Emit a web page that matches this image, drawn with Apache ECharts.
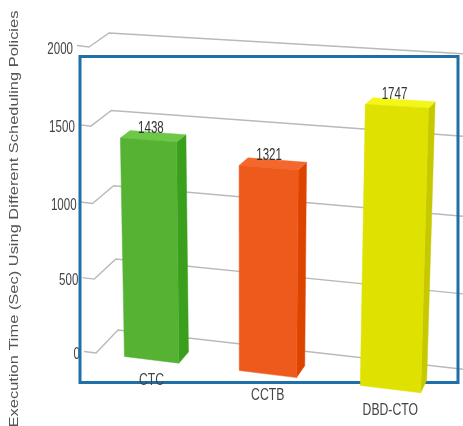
<!DOCTYPE html>
<html>
<head>
<meta charset="utf-8">
<style>html,body{margin:0;padding:0;background:#fff}#chart{width:463px;height:426px}</style>
<script src="https://cdn.jsdelivr.net/npm/echarts@6/dist/echarts.min.js"></script>
</head>
<body>
<div id="chart"></div>
<script>
const categories = ['CTC', 'CCTB', 'DBD-CTO'];
const executionTimes = [1438, 1321, 1747];
const tickValues = [0, 500, 1000, 1500, 2000];
const axisTitle = 'Execution Time (Sec) Using Different Scheduling Policies';

const barColors = [
  { front: '#55b233', side: '#3a9f1c', top: '#6cc846' },
  { front: '#ee5a1b', side: '#dc4500', top: '#f4682e' },
  { front: '#dfe100', side: '#c6c800', top: '#f4f618' }
];

const GRID = { left: 93.5, top: 47, width: 356, height: 306 };
const FLOOR_LEFT = 94, FLOOR_WIDTH = 360;
const TEXT_FONT = '16.5px "Liberation Sans", Arial, sans-serif';

// Maps the unit square onto a quadrilateral given as
// [u0 h0, u1 h0, u1 h1, u0 h1].
function makeHomography(q) {
  const [[x0, y0], [x1, y1], [x2, y2], [x3, y3]] = q;
  const sx = x0 - x1 + x2 - x3, sy = y0 - y1 + y2 - y3;
  const dx1 = x1 - x2, dx2 = x3 - x2, dy1 = y1 - y2, dy2 = y3 - y2;
  const den = dx1 * dy2 - dx2 * dy1;
  const g = (sx * dy2 - dx2 * sy) / den;
  const h = (dx1 * sy - sx * dy1) / den;
  const a = x1 - x0 + g * x1, b = x3 - x0 + h * x3;
  const d = y1 - y0 + g * y1, e = y3 - y0 + h * y3;
  return (u, v) => {
    const w = g * u + h * v + 1;
    return [(a * u + b * v + x0) / w, (d * u + e * v + y0) / w];
  };
}

const frontPlane = makeHomography([[96, 353], [459, 397.5], [470, 67], [89, 47]]);
const backWall = makeHomography([[118, 330], [470, 370], [483, 55], [109, 33]]);
const BAR_DEPTH = 0.47;

// depth 0 is the front edge of the floor, depth 1 the back wall.
function project(u, h, depth) {
  const f = frontPlane(u, h), b = backWall(u, h);
  return [f[0] + (b[0] - f[0]) * depth, f[1] + (b[1] - f[1]) * depth];
}

function toUnit(point) {
  return [(point[0] - FLOOR_LEFT) / FLOOR_WIDTH, (GRID.top + GRID.height - point[1]) / GRID.height];
}

function label(text, x, y, scaleX, fill) {
  return {
    type: 'text', x, y, scaleX,
    style: { text, font: TEXT_FONT, fill, align: 'center', verticalAlign: 'middle' }
  };
}

function renderGridLine(params, api) {
  const value = api.value(1);
  const h = toUnit(api.coord([0, value]))[1];
  const corner = project(0, h, 0);
  const back = project(0, h, 1);
  const far = project(1, h, 1);
  const stub = [corner[0] - 12, corner[1] - 1.5];
  return {
    type: 'group',
    children: [
      {
        type: 'polyline',
        shape: { points: [stub, corner, back, far] },
        style: { stroke: '#b9b9b9', lineWidth: 1.4, fill: null }
      },
      {
        type: 'text', x: stub[0] - 4, y: corner[1] + 1 + h, scaleX: 0.7,
        style: { text: String(value), font: TEXT_FONT, fill: '#444', align: 'right', verticalAlign: 'middle' }
      }
    ]
  };
}

function renderBar(params, api) {
  const index = api.value(0);
  const value = api.value(1);
  const centre = toUnit(api.coord([index, value]));
  const half = api.size([1, 0])[0] * 0.24 / FLOOR_WIDTH;
  const u0 = centre[0] - half, u1 = centre[0] + half, h = centre[1];
  const color = barColors[index];
  const poly = (points, fill) => ({
    type: 'polygon', shape: { points }, style: { fill, stroke: fill, lineWidth: 0.5 }
  });
  const topMid = project(centre[0], h, 0);
  const baseMid = project(centre[0], 0, 0);
  return {
    type: 'group',
    children: [
      poly([project(u1, 0, 0), project(u1, 0, BAR_DEPTH), project(u1, h, BAR_DEPTH), project(u1, h, 0)], color.side),
      poly([project(u0, h, 0), project(u1, h, 0), project(u1, h, BAR_DEPTH), project(u0, h, BAR_DEPTH)], color.top),
      poly([project(u0, 0, 0), project(u1, 0, 0), project(u1, h, 0), project(u0, h, 0)], color.front),
      label(String(value), (topMid[0] + baseMid[0]) / 2 + 1, topMid[1] - 12, 0.7, '#333'),
      label(categories[index], baseMid[0], baseMid[1] + 21, 0.74, '#444')
    ]
  };
}

const chart = echarts.init(document.getElementById('chart'), null, { renderer: 'canvas' });
chart.setOption({
  animation: false,
  backgroundColor: '#fff',
  grid: GRID,
  xAxis: { type: 'category', data: categories, show: false },
  yAxis: { type: 'value', min: 0, max: 2000, interval: 500, show: false },
  graphic: [
    {
      type: 'rect', z: 3, silent: true,
      shape: { x: 80, y: 56.5, width: 378, height: 326 },
      style: { fill: null, stroke: '#1f6fa9', lineWidth: 3 }
    },
    {
      type: 'text', z: 3, silent: true, x: 14.5, y: 219, rotation: Math.PI / 2, scaleX: 1.265,
      style: {
        text: axisTitle, font: '13px "Liberation Sans", Arial, sans-serif', fill: '#555',
        align: 'center', verticalAlign: 'middle'
      }
    }
  ],
  series: [
    {
      type: 'custom', z: 2, clip: false, silent: true,
      renderItem: renderGridLine,
      data: tickValues.map(v => [0, v])
    },
    {
      type: 'custom', z: 4, clip: false, silent: true,
      renderItem: renderBar,
      data: executionTimes.map((v, i) => [i, v])
    }
  ]
});
</script>
</body>
</html>
